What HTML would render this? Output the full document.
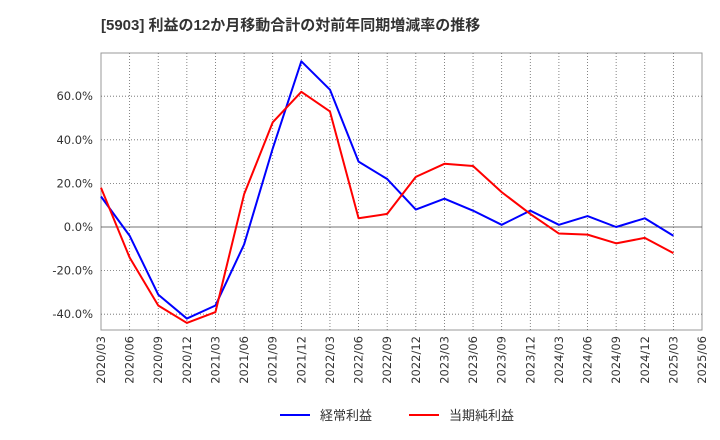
<!DOCTYPE html>
<html><head><meta charset="utf-8"><style>
html,body{margin:0;padding:0;background:#fff;}
svg{display:block;font-family:"Liberation Sans","Noto Sans CJK JP",sans-serif;}
.tk{font-family:"DejaVu Sans","Liberation Sans",sans-serif;}
</style></head><body>
<svg id="chart" width="720" height="440">
<text x="101" y="30" font-size="15" font-weight="bold" fill="#333">[5903]  利益の12か月移動合計の対前年同期増減率の推移</text>
<rect x="101" y="53" width="601" height="277" fill="#fff" stroke="#999" stroke-width="1"/>
<g id="grid"></g><g id="yt"></g><g id="xt"></g><g id="series"></g>
<g>
<line x1="280" y1="415" x2="310" y2="415" stroke="#0000ff" stroke-width="2"/>
<text x="320" y="420" font-size="13" fill="#333">経常利益</text>
<line x1="409" y1="415" x2="439" y2="415" stroke="#ff0000" stroke-width="2"/>
<text x="449" y="420" font-size="13" fill="#333">当期純利益</text>
</g>
</svg>
<script>
const xLabels=["2020/03","2020/06","2020/09","2020/12","2021/03","2021/06","2021/09","2021/12","2022/03","2022/06","2022/09","2022/12","2023/03","2023/06","2023/09","2023/12","2024/03","2024/06","2024/09","2024/12","2025/03","2025/06"];
const yTicks=[-40,-20,0,20,40,60];
const keijo=[14,-4,-31,-42,-36,-8,36,76,63,30,22,8,13,7.5,1,7.5,1,5,0,4,-4];
const junrieki=[18,-14,-36,-44,-39,15,48,62,53,4,6,23,29,28,16,6,-3,-3.5,-7.5,-5,-12];
const NS="http://www.w3.org/2000/svg";
const x0=101,x1=702,yTop=53,yBot=330;
function xs(i){return x0+i*(x1-x0)/(xLabels.length-1);}
function ys(v){return 227-v*2.18;}
function mk(tag,attrs,parent){const e=document.createElementNS(NS,tag);for(const k in attrs)e.setAttribute(k,attrs[k]);parent.appendChild(e);return e;}
const grid=document.getElementById('grid'),yt=document.getElementById('yt'),xt=document.getElementById('xt'),ser=document.getElementById('series');
xLabels.forEach((l,i)=>{
  const x=xs(i);
  if(i>0&&i<xLabels.length-1){const g=mk('line',{x1:x,x2:x,y1:yTop,y2:yBot,stroke:'#666','stroke-dasharray':'1,2','stroke-width':0.8},grid);
  
  }
  const t=mk('text',{x:0,y:0,'font-size':11.5,fill:'#333','text-anchor':'end',class:'tk',transform:`translate(${x+4},${yBot+6}) rotate(-90)`},xt);
  t.textContent=l;
  
  
});
yTicks.forEach(v=>{
  const y=ys(v);
  const g=mk('line',{x1:x0,x2:x1,y1:y,y2:y,stroke:v===0?'#444':'#666','stroke-dasharray':v===0?'none':'1,2','stroke-width':0.8},grid);
  
  
  const t=mk('text',{x:x0-8,y:y+4,'font-size':11.5,fill:'#333','text-anchor':'end',class:'tk'},yt);
  t.textContent=v.toFixed(1)+'%';
  
  
});
function line(data,color,name){
  const p=mk('polyline',{points:data.map((v,i)=>xs(i)+','+ys(v)).join(' '),fill:'none',stroke:color,'stroke-width':2,'stroke-linejoin':'round'},ser);
  
  
}
line(keijo,'#0000ff','series-keijo-rieki');
line(junrieki,'#ff0000','series-touki-jun-rieki');
</script>
</body></html>
